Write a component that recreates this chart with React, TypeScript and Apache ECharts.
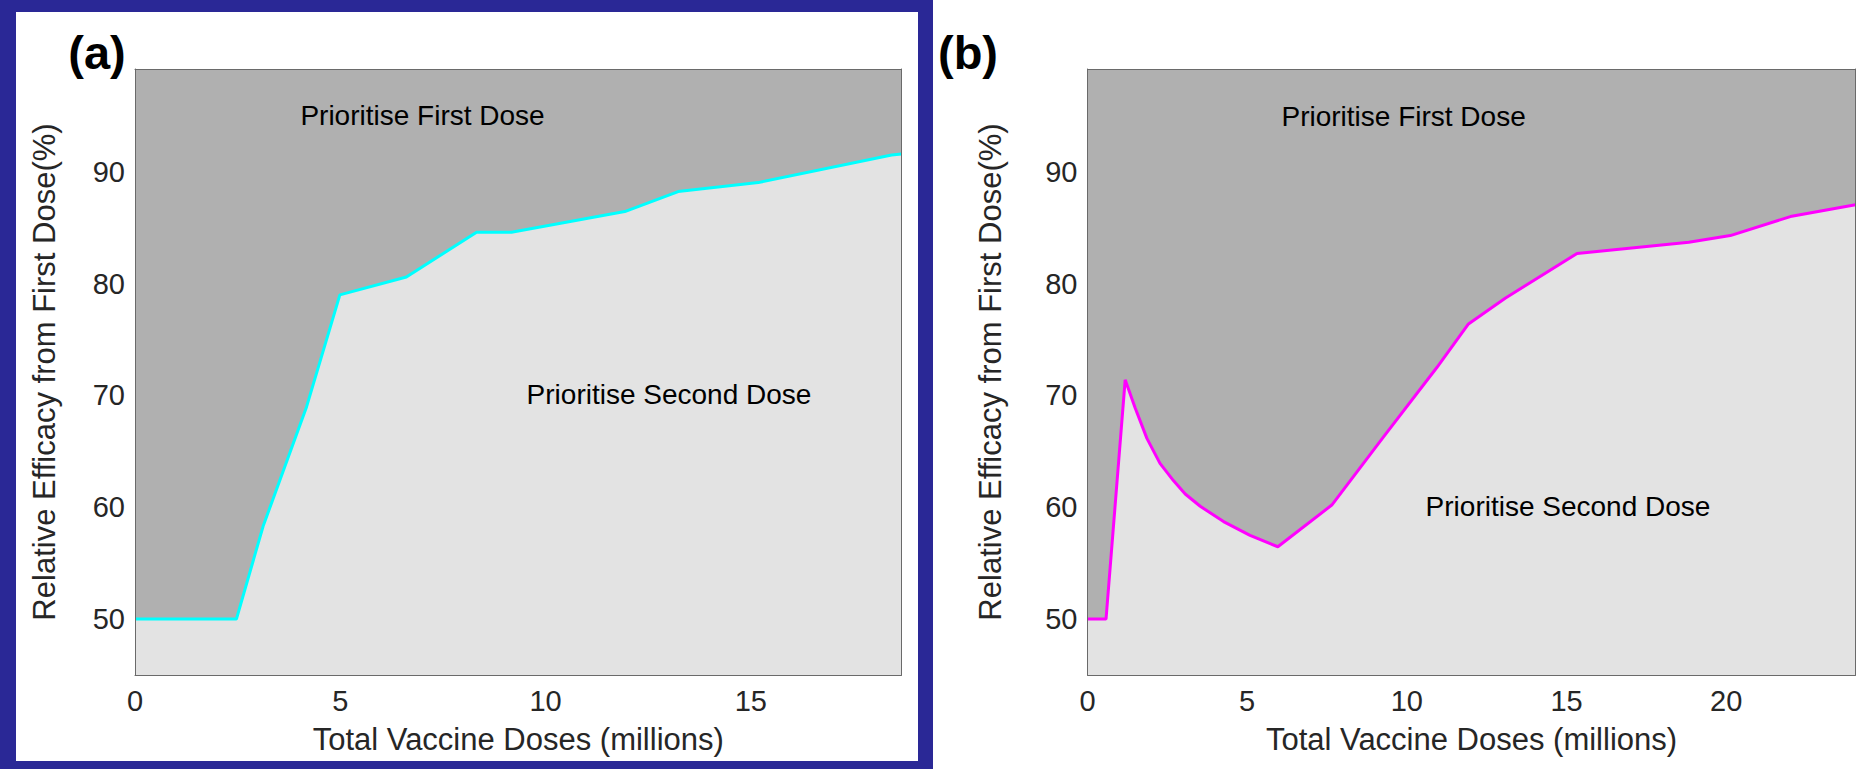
import React, { useEffect, useRef } from "react";
import * as echarts from "echarts";

// Panel (a): cyan boundary
const aDoses = [0, 2.47, 3.12, 4.18, 4.99, 6.61, 8.32, 9.17, 11.93, 13.23, 15.18, 18.43, 18.67];
const aEfficacy = [50, 50, 58.3, 69.0, 79.0, 80.6, 84.6, 84.6, 86.45, 88.24, 89.04, 91.5, 91.6];

// Panel (b): magenta boundary
const bDoses = [0, 0.58, 1.18, 1.49, 1.86, 2.27, 2.69, 3.06, 3.53, 4.26, 5.09, 5.96, 7.65, 9.27, 10.94, 11.93, 13.08, 15.33, 18.83, 20.13, 22.01, 24.05];
const bEfficacy = [50, 50, 71.4, 68.9, 66.16, 63.93, 62.39, 61.19, 60.09, 58.72, 57.49, 56.47, 60.2, 66.3, 72.5, 76.4, 78.7, 82.7, 83.7, 84.3, 86.0, 87.05];

const xMaxA = 18.67;
const xMaxB = 24.05;
const yMin = 45;
const yMax = 99.2;

const X_TITLE = "Total Vaccine Doses (millions)";
const Y_TITLE = "Relative Efficacy from First Dose(%)";
const FIRST_LABEL = "Prioritise First Dose";
const SECOND_LABEL = "Prioritise Second Dose";

const FONT = "'Liberation Sans', Arial, Helvetica, sans-serif";
const AXIS_COLOR = "#6a6a6a";
const TEXT_COLOR = "#262626";
const TICK_SIZE = 29;
const TITLE_SIZE = 31;

function pairs(xs: number[], ys: number[]) {
  return xs.map((x, i) => [x, ys[i]]);
}

function xAxes(gridIndex: number, max: number) {
  return [
    {
      type: "value",
      gridIndex,
      min: 0,
      max,
      interval: 5,
      position: "bottom",
      z: 5,
      axisLine: { show: true, onZero: false, lineStyle: { color: AXIS_COLOR, width: 1 } },
      axisTick: { show: false },
      splitLine: { show: false },
      axisLabel: {
        show: true,
        margin: 11,
        fontSize: TICK_SIZE,
        color: TEXT_COLOR,
        fontFamily: FONT,
        showMaxLabel: false,
        formatter: (v: number) => (v % 5 === 0 ? String(v) : ""),
      },
      name: X_TITLE,
      nameLocation: "middle",
      nameGap: 49,
      nameTextStyle: { fontSize: TITLE_SIZE, color: TEXT_COLOR, fontFamily: FONT },
    },
    {
      type: "value",
      gridIndex,
      min: 0,
      max,
      position: "top",
      z: 5,
      axisLine: { show: true, onZero: false, lineStyle: { color: AXIS_COLOR, width: 1 } },
      axisTick: { show: false },
      axisLabel: { show: false },
      splitLine: { show: false },
    },
  ];
}

function yAxes(gridIndex: number, nameGap: number) {
  return [
    {
      type: "value",
      gridIndex,
      min: yMin,
      max: yMax,
      interval: 5,
      position: "left",
      z: 5,
      axisLine: { show: true, onZero: false, lineStyle: { color: AXIS_COLOR, width: 1 } },
      axisTick: { show: false },
      splitLine: { show: false },
      axisLabel: {
        show: true,
        margin: 10,
        fontSize: TICK_SIZE,
        color: TEXT_COLOR,
        fontFamily: FONT,
        showMaxLabel: false,
        showMinLabel: false,
        formatter: (v: number) => (v % 10 === 0 ? String(v) : ""),
      },
      name: Y_TITLE,
      nameLocation: "middle",
      nameRotate: 90,
      nameGap,
      nameTextStyle: { fontSize: TITLE_SIZE, color: TEXT_COLOR, fontFamily: FONT },
    },
    {
      type: "value",
      gridIndex,
      min: yMin,
      max: yMax,
      position: "right",
      z: 5,
      axisLine: { show: true, onZero: false, lineStyle: { color: AXIS_COLOR, width: 1 } },
      axisTick: { show: false },
      axisLabel: { show: false },
      splitLine: { show: false },
    },
  ];
}

function boundarySeries(axisIndex: number, data: number[][], color: string) {
  return {
    type: "line",
    xAxisIndex: axisIndex,
    yAxisIndex: axisIndex,
    data,
    symbol: "none",
    showSymbol: false,
    z: 2,
    itemStyle: { color },
    lineStyle: { color, width: 3 },
    areaStyle: { color: "#e3e3e3", opacity: 1, origin: "start" },
  };
}

function label(text: string, x: number, y: number, size = 28) {
  return {
    type: "text",
    x,
    y,
    z: 10,
    style: {
      text,
      fill: "#000000",
      font: `${size}px ${FONT}`,
      textAlign: "center",
      textVerticalAlign: "middle",
    },
  };
}

function panelTag(text: string, x: number) {
  return {
    type: "text",
    x,
    y: 52,
    z: 10,
    style: {
      text,
      fill: "#000000",
      font: `bold 47px ${FONT}`,
      textAlign: "center",
      textVerticalAlign: "middle",
    },
  };
}

export default function App() {
  const ref = useRef<HTMLDivElement>(null);

  useEffect(() => {
    if (!ref.current) return;
    const chart = echarts.init(ref.current, null, { renderer: "svg" });
    const blue = "#2a2896";
    const option: any = {
      animation: false,
      backgroundColor: "#ffffff",
      grid: [
        {
          left: 135,
          top: 69,
          width: 766.5,
          height: 606,
          show: true,
          backgroundColor: "#b0b0b0",
          borderWidth: 0,
        },
        {
          left: 1087.5,
          top: 69,
          width: 768,
          height: 606,
          show: true,
          backgroundColor: "#b0b0b0",
          borderWidth: 0,
        },
      ],
      xAxis: [...xAxes(0, xMaxA), ...xAxes(1, xMaxB)],
      yAxis: [...yAxes(0, 75), ...yAxes(1, 82)],
      series: [
        boundarySeries(0, pairs(aDoses, aEfficacy), "#00ffff"),
        boundarySeries(2, pairs(bDoses, bEfficacy), "#ff00ff"),
      ],
      graphic: [
        { type: "rect", shape: { x: 0, y: 0, width: 16, height: 769 }, style: { fill: blue }, z: 20 },
        { type: "rect", shape: { x: 918, y: 0, width: 15, height: 769 }, style: { fill: blue }, z: 20 },
        { type: "rect", shape: { x: 0, y: 0, width: 933, height: 12 }, style: { fill: blue }, z: 20 },
        { type: "rect", shape: { x: 0, y: 761, width: 933, height: 8 }, style: { fill: blue }, z: 20 },
        label(FIRST_LABEL, 422.5, 115),
        label(SECOND_LABEL, 669, 394.5),
        label(FIRST_LABEL, 1403.6, 116),
        label(SECOND_LABEL, 1568, 506),
        panelTag("(a)", 97),
        panelTag("(b)", 968),
      ],
    };
    chart.setOption(option);
    return () => chart.dispose();
  }, []);

  return (
    <div
      ref={ref}
      style={{ position: "absolute", left: 0, top: 0, width: 1861, height: 769, background: "#ffffff" }}
    />
  );
}
